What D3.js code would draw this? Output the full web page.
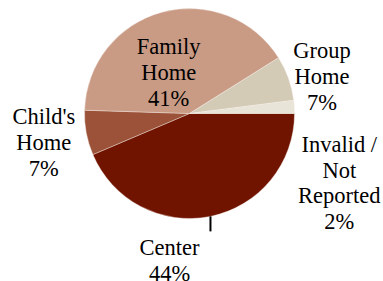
<!DOCTYPE html>
<html>
<head>
<meta charset="UTF-8">
<script src="https://d3js.org/d3.v7.min.js"></script>
</head>
<body style="margin:0">
<script>
// data (percent shares, clockwise from 3 o'clock)
var categories = ["Center", "Child's Home", "Family Home", "Group Home", "Invalid / Not Reported"];
var values = [43.6, 6.9, 40.6, 6.9, 2.0];
var pctLabels = ["44%", "7%", "41%", "7%", "2%"];
var labelLines = [["Center"], ["Child's", "Home"], ["Family", "Home"], ["Group", "Home"], ["Invalid /", "Not", "Reported"]];
var colors = ["#701400", "#9b5238", "#c99b85", "#d4cbb7", "#e8e4d8"];

var width = 383, height = 281;
var cx = 189.5, cy = 113.5, radius = 105;
var lineH = 25.8;

// where each label's first baseline sits, relative to pie center
var labelOffsets = [[-20, 141.5], [-145.7, 10.8], [-20.8, -59.5], [132.5, -55.2], [149.8, 38.2]];

var svg = d3.select("body").append("svg")
    .attr("width", width)
    .attr("height", height)
    .style("font-family", "'Liberation Serif'");

var pie = d3.pie()
    .sort(null)
    .startAngle(Math.PI / 2)
    .endAngle(Math.PI / 2 + 2 * Math.PI)
    .value(function (d) { return d; });

var arc = d3.arc().innerRadius(0).outerRadius(radius);
var arcs = pie(values);

svg.selectAll("path")
    .data(arcs)
    .enter().append("path")
    .attr("transform", "translate(" + cx + "," + cy + ")")
    .attr("d", arc)
    .attr("fill", function (d, i) { return colors[i]; })
    .attr("stroke", "#f4ece6")
    .attr("stroke-width", 0.4);

// leader line for the Center slice (straight down from the rim)
var mid = (arcs[0].startAngle + arcs[0].endAngle) / 2;
var lx = cx + Math.sin(mid) * radius, ly = cy - Math.cos(mid) * radius;
svg.append("line")
    .attr("x1", lx).attr("y1", ly)
    .attr("x2", lx).attr("y2", ly + 15)
    .attr("stroke", "#000")
    .attr("stroke-width", 2);

// one text element per label line
var lineData = [];
categories.forEach(function (c, i) {
    labelLines[i].concat([pctLabels[i]]).forEach(function (s, k) {
        lineData.push({ text: s, x: cx + labelOffsets[i][0], y: cy + labelOffsets[i][1] + k * lineH });
    });
});

svg.selectAll("text").data(lineData).enter().append("text")
    .attr("x", function (d) { return d.x; })
    .attr("y", function (d) { return d.y; })
    .attr("text-anchor", "middle")
    .style("font-family", "'Liberation Serif'")
    .style("font-size", "22.5px")
    .text(function (d) { return d.text; });
</script>
</body>
</html>
